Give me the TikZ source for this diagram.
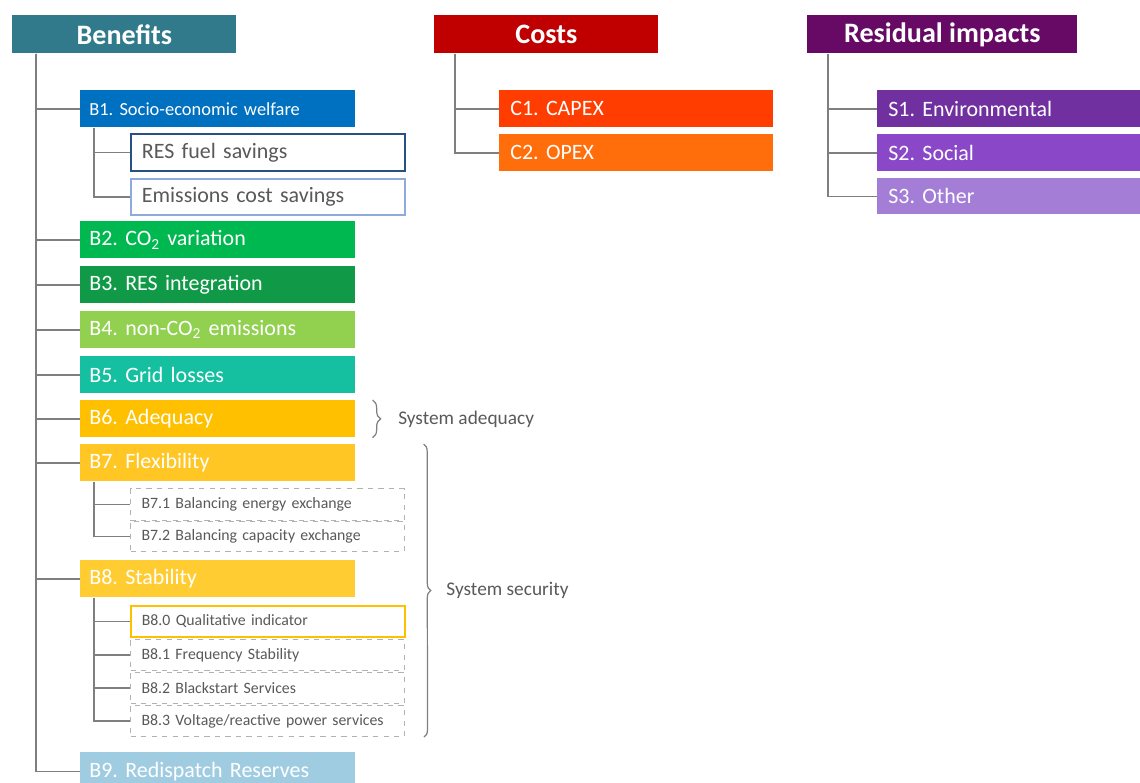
\documentclass[tikz,border=0pt]{standalone}
\usepackage{fontspec}
\setmainfont{Carlito}
\frenchspacing
\usetikzlibrary{positioning,decorations.pathreplacing}
\definecolor{benefitc}{RGB}{49,122,140}
\definecolor{costc}{RGB}{192,0,0}
\definecolor{residc}{RGB}{102,10,102}
\definecolor{bonec}{RGB}{0,112,192}
\definecolor{btwoc}{RGB}{0,184,80}
\definecolor{bthreec}{RGB}{16,154,72}
\definecolor{bfourc}{RGB}{146,208,80}
\definecolor{bfivec}{RGB}{20,192,160}
\definecolor{bsixc}{RGB}{255,192,0}
\definecolor{bsevenc}{RGB}{255,198,36}
\definecolor{beightc}{RGB}{255,204,50}
\definecolor{bninec}{RGB}{160,204,226}
\definecolor{conec}{RGB}{255,61,0}
\definecolor{ctwoc}{RGB}{255,110,10}
\definecolor{sonec}{RGB}{112,48,160}
\definecolor{stwoc}{RGB}{138,72,200}
\definecolor{sthreec}{RGB}{164,126,214}
\definecolor{fuelc}{RGB}{40,80,130}
\definecolor{emisc}{RGB}{143,170,220}
\definecolor{txtgrey}{RGB}{89,89,89}
\definecolor{linegrey}{RGB}{127,127,127}
\begin{document}
\begin{tikzpicture}[x=0.02cm,y=-0.02cm]

\tikzset{
  head/.style={fill=#1, text=white, anchor=north west,
    minimum height=0.76cm, inner sep=0pt,
    font=\fontsize{16}{18}\selectfont\bfseries},
  bar/.style={fill=#1, text=white, anchor=north west,
    minimum height=0.74cm, text width=5.14cm,
    inner xsep=0.18cm, inner ysep=0pt, align=left,
    font=\fontsize{12.5}{14}\selectfont},
  sub/.style={draw=#1, line width=1pt, fill=white, text=txtgrey,
    anchor=north west, minimum height=0.74cm, text width=5.04cm,
    inner xsep=0.22cm, inner ysep=0pt, align=left,
    font=\fontsize{12.5}{14}\selectfont},
  small/.style={sub=#1, minimum height=0.62cm,
    font=\fontsize{9}{10}\selectfont},
  dsmall/.style={small=linegrey!60, dashed, line width=0.6pt},
  tree/.style={draw=linegrey, line width=0.9pt},
  brc/.style={draw=linegrey, line width=0.7pt,
    decorate, decoration={brace, amplitude=#1}},
  lbl/.style={text=txtgrey, inner sep=0pt, anchor=west,
    font=\fontsize{11}{12}\selectfont}
}

\useasboundingbox (0,0) rectangle (1140,782);

% headers
\node[head=benefitc, minimum width=4.48cm] (ben) at (12,15) {Benefits};
\node[head=costc, minimum width=4.48cm] (cost) at (434,15) {Costs};
\node[head=residc, minimum width=5.4cm] (res) at (807,15) {Residual impacts};

% benefits
\node[bar=bonec, font=\fontsize{10.5}{12}\selectfont] (b1) at (80,90) {B1. Socio-economic welfare};
\node[sub=fuelc] (b1a) at (130,133) {RES fuel savings};
\node[sub=emisc, minimum height=0.72cm] (b1b) at (130,178) {Emissions cost savings};
\node[bar=btwoc] (b2) at (80,221) {B2. CO\textsubscript{2} variation};
\node[bar=bthreec] (b3) at (80,266) {B3. RES integration};
\node[bar=bfourc] (b4) at (80,311) {B4. non-CO\textsubscript{2} emissions};
\node[bar=bfivec] (b5) at (80,356) {B5. Grid losses};
\node[bar=bsixc] (b6) at (80,400) {B6. Adequacy};
\node[bar=bsevenc] (b7) at (80,444) {B7. Flexibility};
\node[dsmall, minimum height=0.64cm] (b71) at (130,488) {B7.1 Balancing energy exchange};
\node[dsmall, minimum height=0.6cm] (b72) at (130,521) {B7.2 Balancing capacity exchange};
\node[bar=beightc] (b8) at (80,560) {B8. Stability};
\node[small=bsixc] (b80) at (130,605) {B8.0 Qualitative indicator};
\node[dsmall] (b81) at (130,639) {B8.1 Frequency Stability};
\node[dsmall] (b82) at (130,672) {B8.2 Blackstart Services};
\node[dsmall] (b83) at (130,705) {B8.3 Voltage/reactive power services};
\node[bar=bninec, minimum height=0.76cm] (b9) at (80,752) {B9. Redispatch Reserves};

% costs
\node[bar=conec, text width=5.04cm, inner xsep=0.22cm] (c1) at (499,90) {C1. CAPEX};
\node[bar=ctwoc, text width=5.04cm, inner xsep=0.22cm] (c2) at (499,134) {C2. OPEX};

% residual impacts
\node[bar=sonec, text width=4.82cm, inner xsep=0.22cm] (s1) at (877,90) {S1. Environmental};
\node[bar=stwoc, text width=4.82cm, inner xsep=0.22cm] (s2) at (877,134) {S2. Social};
\node[bar=sthreec, text width=4.82cm, inner xsep=0.22cm, minimum height=0.72cm] (s3) at (877,178) {S3. Other};

% tree lines
\foreach \n in {b1,b2,b3,b4,b5,b6,b7,b8,b9}
  \draw[tree] ([xshift=0.48cm]ben.south west) |- (\n.west);
\foreach \n in {b1a,b1b}
  \draw[tree] ([xshift=0.28cm]b1.south west) |- (\n.west);
\foreach \n in {b71,b72}
  \draw[tree] ([xshift=0.28cm]b7.south west) |- (\n.west);
\foreach \n in {b80,b81,b82,b83}
  \draw[tree] ([xshift=0.28cm]b8.south west) |- (\n.west);
\foreach \n in {c1,c2}
  \draw[tree] ([xshift=0.42cm]cost.south west) |- (\n.west);
\foreach \n in {s1,s2,s3}
  \draw[tree] ([xshift=0.42cm]res.south west) |- (\n.west);

% braces
\draw[brc=0.16cm] ([xshift=0.34cm]b6.north east) -- ([xshift=0.34cm]b6.south east)
  node[lbl, midway, right=0.5cm] {System adequacy};
\draw[brc=0.14cm] ([xshift=1.36cm]b7.north east) -- ([xshift=0.38cm]b83.south east)
  node[lbl, midway, right=0.44cm] {System security};

\end{tikzpicture}
\end{document}
